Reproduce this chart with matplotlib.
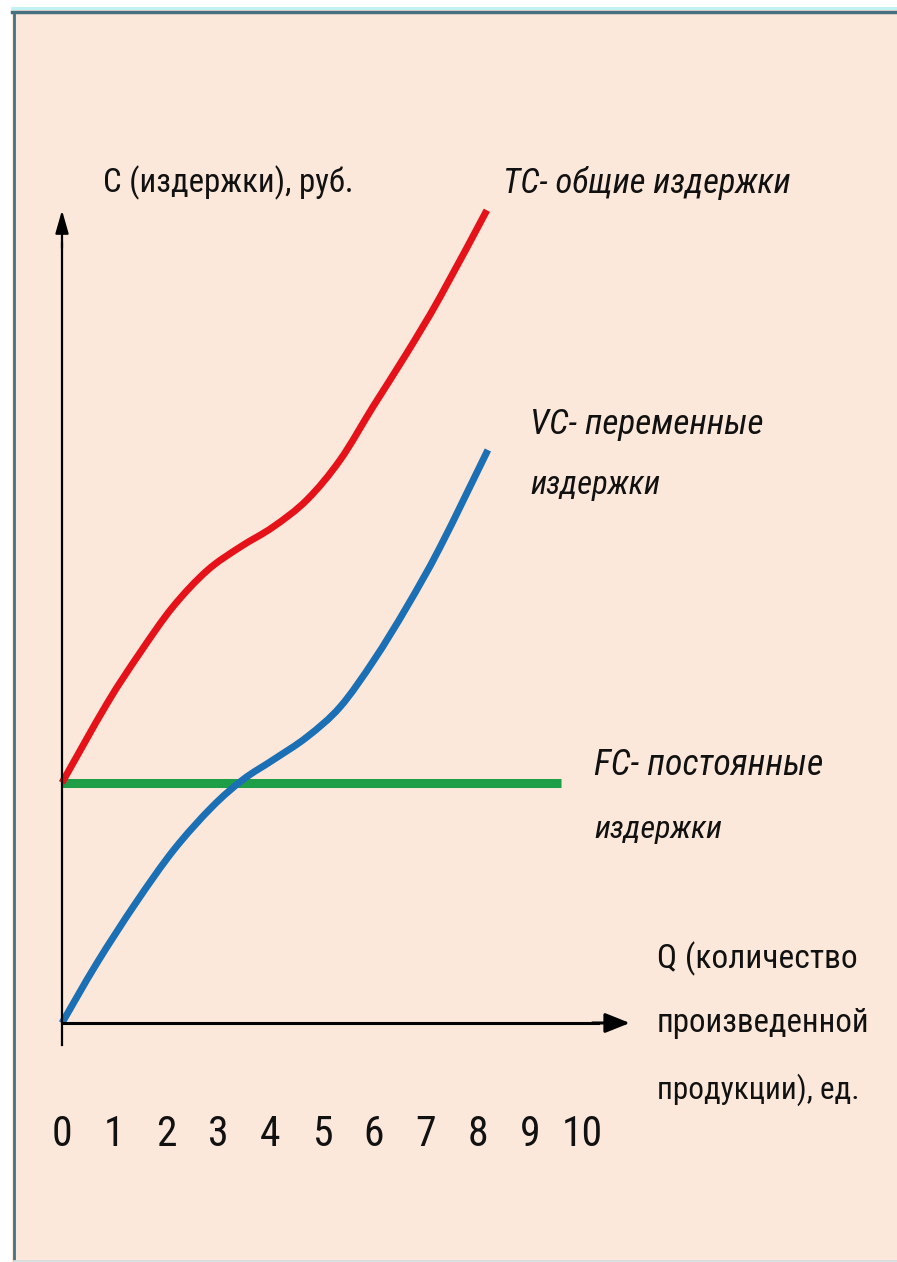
import numpy as np
import matplotlib.pyplot as plt
from matplotlib import font_manager
from matplotlib.path import Path
from matplotlib.patches import PathPatch

# values (Q in units, C in the same scale as Q)
q_tc = [0.0, 0.87, 1.5, 2.13, 2.79, 3.42, 4.06, 4.71, 5.35, 5.98, 6.63, 7.27, 8.17]
tc = [4.62, 6.15, 7.12, 8.0, 8.7, 9.15, 9.54, 10.06, 10.83, 11.85, 12.88, 13.96, 15.63]

q_vc = [0.0, 0.67, 1.42, 2.15, 2.88, 3.48, 4.06, 4.71, 5.35, 6.0, 6.63, 7.27, 8.19]
vc = [0.0, 1.15, 2.31, 3.33, 4.15, 4.68, 5.06, 5.5, 6.08, 6.98, 8.0, 9.15, 11.02]

q_fc = [0.0, 9.6]
fc = [4.62, 4.62]

tick_pos = list(range(11))
tick_labels = [str(i) for i in tick_pos]

# pick a narrow font if one is there
names = {f.name for f in font_manager.fontManager.ttflist}
fam, stretch = 'Liberation Sans', 'normal'
for n in ['Liberation Sans Narrow', 'Roboto Condensed', 'Arial Narrow', 'Open Sans Condensed']:
    if n in names:
        fam = n
        break
else:
    for f in font_manager.fontManager.ttflist:
        if f.name == 'DejaVu Sans' and 'condensed' in str(f.stretch):
            fam, stretch = 'DejaVu Sans', 'condensed'
            break
plt.rcParams['font.family'] = [fam, 'DejaVu Sans']
plt.rcParams['font.stretch'] = stretch

bg = '#FCE8DA'
W, H = 897, 1262
fig = plt.figure(figsize=(W / 100, H / 100), dpi=100, facecolor=bg)

# frame around the picture
fig.patches.append(plt.Rectangle((0, 1 - 7 / H), 1, 7 / H, transform=fig.transFigure,
                                 facecolor='white', edgecolor='none'))
fig.patches.append(plt.Rectangle((0, 0), 12 / W, 1, transform=fig.transFigure,
                                 facecolor='white', edgecolor='none'))
fig.lines.append(plt.Line2D([12 / W, 1], [1 - 8 / H, 1 - 8 / H], transform=fig.transFigure,
                            color='#bff3f7', lw=2))
fig.lines.append(plt.Line2D([12 / W, 1], [1 - 12 / H, 1 - 12 / H], transform=fig.transFigure,
                            color='#46707f', lw=2.5))
fig.lines.append(plt.Line2D([14 / W, 14 / W], [0, 1 - 12 / H], transform=fig.transFigure,
                            color='#3f7483', lw=2))
fig.lines.append(plt.Line2D([14 / W, 1], [1.5 / H, 1.5 / H], transform=fig.transFigure,
                            color='#d8dde0', lw=2))

# axes in which one unit = 52 px, origin at pixel (62, 1023)
ax = fig.add_axes([0, 0, 1, 1])
ax.set_facecolor('none')
ax.axis('off')
u = 52.0
ax.set_xlim(-62 / u, (W - 62) / u)
ax.set_ylim(-(H - 1023) / u, 1023 / u)


def smooth_path(xs, ys):
    # Catmull-Rom through the read points, drawn as cubic Bezier segments
    p = np.column_stack([xs, ys]).astype(float)
    p = np.vstack([p[0], p, p[-1]])
    verts = [p[1]]
    codes = [Path.MOVETO]
    for i in range(1, len(p) - 2):
        c1 = p[i] + (p[i + 1] - p[i - 1]) / 6
        c2 = p[i + 1] - (p[i + 2] - p[i]) / 6
        verts += [c1, c2, p[i + 1]]
        codes += [Path.CURVE4] * 3
    return Path(verts, codes)


# curves
ax.plot(q_fc, fc, color='#1f9e48', lw=6.5, solid_capstyle='butt', zorder=3)
ax.add_patch(PathPatch(smooth_path(q_vc, vc), facecolor='none', edgecolor='#1b6fb5',
                       lw=5, capstyle='butt', joinstyle='round', zorder=4))
ax.add_patch(PathPatch(smooth_path(q_tc, tc), facecolor='none', edgecolor='#e5121a',
                       lw=5, capstyle='butt', joinstyle='round', zorder=4))

# axes with arrows
ax.plot([0, 0], [-0.42, 15.0], color='black', lw=1.6, zorder=5)
ax.annotate('', xy=(0, 15.63), xytext=(0, 14.9),
            arrowprops=dict(arrowstyle='-|>,head_length=1.4,head_width=0.4',
                            color='black', lw=1.6, shrinkA=0, shrinkB=0))
ax.plot([0, 10.3], [0, 0], color='black', lw=2.2, zorder=5)
ax.annotate('', xy=(10.92, 0), xytext=(10.2, 0),
            arrowprops=dict(arrowstyle='-|>,head_length=1.5,head_width=0.6',
                            color='black', lw=2.2, shrinkA=0, shrinkB=0))

rend = fig.canvas.get_renderer()

# tick labels
for p, lab in zip(tick_pos, tick_labels):
    ax.text(p, -2.15, lab, ha='center', va='center', fontsize=30, color='#111111')


# texts (positions and widths in pixels of the reference)
def ptext(x, y, s, width, maxsize, **kw):
    t = ax.text((x - 62) / u, (1023 - y) / u, s, ha='left', va='baseline',
                color='#111111', fontsize=30, **kw)
    w = t.get_window_extent(renderer=rend).width
    t.set_fontsize(min(maxsize, 30 * width / w))
    return t


ptext(103, 192, 'C (издержки), руб.', 250, 34)
ptext(503, 193, 'TC- общие издержки', 288, 36, style='italic')
ptext(530, 434, 'VC- переменные', 233, 36, style='italic')
ptext(530, 494, 'издержки', 130, 36, style='italic')
ptext(594, 775, 'FC- постоянные', 229, 36, style='italic')
ptext(594, 838, 'издержки', 128, 36, style='italic')
ptext(657, 968, 'Q (количество', 200, 34)
ptext(657, 1032, 'произведенной', 212, 34)
ptext(657, 1099, 'продукции), ед.', 202, 34)

fig.savefig('out.png', dpi=100, facecolor=bg)
